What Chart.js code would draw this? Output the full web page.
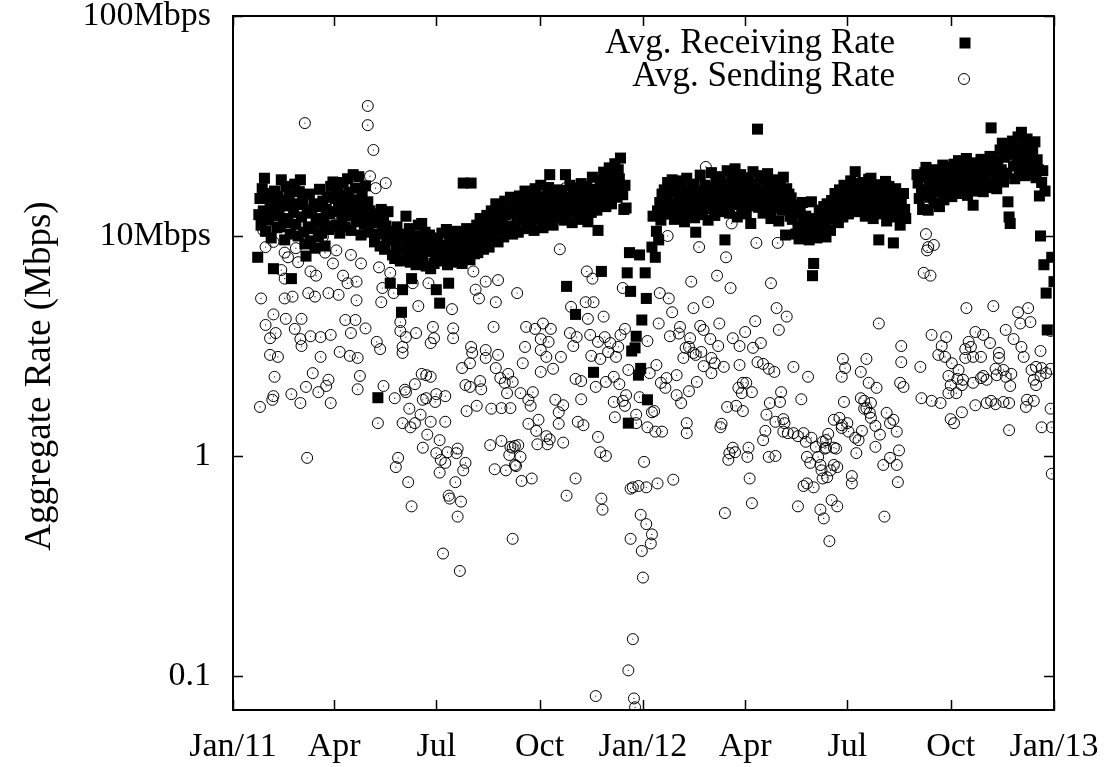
<!DOCTYPE html>
<html>
<head>
<meta charset="utf-8">
<title>Aggregate Rate</title>
<script src="https://cdn.jsdelivr.net/npm/chart.js@4.4.1/dist/chart.umd.min.js"></script>
<style>
  html, body { margin: 0; padding: 0; background: #ffffff; }
  #wrap { width: 1112px; height: 767px; }
</style>
</head>
<body>
<div id="wrap"><canvas id="rate-graph" width="1112" height="767"></canvas></div>
<script>
// days are counted from 1 Jan 2011
const monthTicks = [0, 90, 181, 273, 365, 456, 547, 639, 731];
const monthLabels = ["Jan/11", "Apr", "Jul", "Oct", "Jan/12", "Apr", "Jul", "Oct", "Jan/13"];

const rateTicks = [0.1, 1, 10, 100];
const rateLabels = ["0.1", "1", "10Mbps", "100Mbps"];

const seriesNames = ["Avg. Receiving Rate", "Avg. Sending Rate"];

// receiving rate, one value per day starting at recvFirstDay (null = no sample)
const recvFirstDay = 22;
const recvRates = [
  8.0, 12.5, 14.8, 11.2, 16.4, 13.0, 18.3, 10.5, 12.1, 15.6,
  11.8, 14.2, 9.8, 13.5, 7.1, 16.0, 12.4, 10.9, 15.1, 13.3,
  11.0, 18.0, 14.5, 12.0, 9.6, 16.8, 13.7, 11.5, 15.4, 10.2,
  6.4, 14.0, 12.8, 17.2, 11.3, 13.9, 10.0, 15.9, 18.0, 12.2,
  14.6, 10.4, 9.2, 8.1, 13.1, 11.0, 15.5, 9.5, 12.7, 10.8,
  14.0, 8.8, 11.6, 13.6, 9.9, 16.3, 12.0, 10.3, 14.4, 11.4,
  9.0, 13.2, 15.0, 10.7, 12.6, 16.8, 11.1, 17.6, 12.9, 14.8,
  11.2, 16.0, 13.4, 10.3, 15.2, 12.1, 17.5, 14.1, 11.0, 13.0,
  18.2, 15.8, 12.4, 10.6, 14.6, 19.0, 13.2, 16.5, 11.6, 14.0,
  18.6, 12.8, 10.1, 15.4, 13.6, 11.3, 16.9, 12.2, 14.3, 10.4,
  13.0, 11.7, 12.5, 11.5, 9.4, 12.6, 10.2, 1.84, 11.8, 9.0,
  13.2, 10.7, 12.0, 8.7, 11.1, 9.8, 12.9, 10.4, 6.1, 9.6,
  8.2, 10.5, 7.9, 9.1, 11.0, 8.6, 9.9, 7.7, 4.5, 5.7,
  8.8, 10.2, 12.3, 9.3, 8.0, 10.8, 7.6, 6.4, 9.5, 8.4,
  10.0, 7.4, 9.0, 11.2, 8.1, 9.7, 11.4, 7.8, 8.9, 10.4,
  7.3, 9.2, 8.5, 10.1, 7.1, 8.7, 9.8, 7.5, 8.3, 5.7,
  9.4, 7.9, 4.95, 8.6, 10.3, 7.7, 9.1, 8.2, 10.7, 7.4,
  6.1, 9.6, 8.4, 10.0, 7.9, 9.3, 8.1, 10.5, 7.6, 9.0,
  8.8, 10.2, 7.5, 17.4, 9.4, 8.0, 10.8, 8.5, 9.7, 7.8,
  17.4, 9.2, 10.4, 8.3, 9.0, 11.2, 8.4, 10.1, 12.0, 9.3,
  10.8, 8.7, 11.6, 9.8, 12.4, 10.3, 8.9, 11.0, 13.0, 9.6,
  12.2, 10.6, 14.0, 11.4, 9.4, 12.8, 10.9, 13.6, 11.8, 9.9,
  14.4, 12.5, 10.5, 13.3, 11.1, 15.0, 12.7, 10.2, 13.4, 11.0,
  14.8, 12.3, 10.4, 15.2, 13.0, 11.7, 14.1, 12.6, 16.0, 10.8,
  13.7, 12.0, 15.5, 11.4, 14.4, 13.1, 10.6, 16.4, 12.8, 14.9,
  11.9, 13.5, 17.0, 12.4, 10.9, 15.1, 13.9, 11.6, 14.6, 16.6,
  19.0, 12.7, 14.2, 11.2, 15.8, 13.3, 12.1, 16.2, 14.0, 14.5,
  12.2, 16.1, 13.4, 11.8, 19.0, 5.9, 15.0, 12.9, 17.0, 14.1,
  11.5, 15.7, 13.2, 4.4, 16.5, 12.4, 14.8, 11.9, 17.3, 13.7,
  15.4, 12.6, 14.2, 16.8, 11.6, 13.9, 15.9, 12.8, 18.5, 2.4,
  14.6, 16.3, 13.1, 10.6, 15.6, 17.8, 6.9, 14.2, 19.5, 16.4,
  13.6, 18.6, 15.1, 20.4, 17.0, 14.0, 19.2, 16.0, 21.3, 17.6,
  15.0, 20.0, 18.2, 22.6, 16.8, 15.4, 13.2, 17.0, 13.4, 6.8,
  1.41, 8.4, 5.6, 3.0, null, null, 3.1, 3.5, null, 2.33,
  8.2, 2.5, 4.15, null, null, 6.8, 5.2, 1.8, null, null,
  null, 8.9, 12.3, null, 8.0, 10.5, 13.0, 9.6, 14.2, 11.8,
  15.5, 12.6, 16.2, 13.4, 14.8, 17.5, 12.6, 15.9, 13.4, 18.0,
  14.1, 11.9, 16.6, 13.0, 15.3, 17.8, 12.3, 14.6, 16.9, 13.7,
  11.6, 15.6, 18.3, 14.0, 12.8, 16.2, 13.5, 15.0, 17.2, 12.1,
  10.4, 14.4, 16.0, 13.1, 18.9, 15.2, 12.5, 14.7, 17.0, 13.3,
  15.8, 11.8, 16.7, 14.2, 19.4, 13.8, 15.5, 12.4, 17.6, 14.9,
  16.4, 12.9, 18.6, 15.1, 13.6, 17.1, 9.6, 14.5, 19.8, 16.1,
  12.7, 15.7, 18.1, 13.9, 16.8, 20.2, 14.3, 12.2, 17.4, 15.4,
  19.0, 13.2, 16.3, 14.8, 18.4, 12.6, 15.9, 17.7, 13.7, 11.4,
  16.6, 19.6, 14.6, 17.2, 15.3, 30.6, 13.5, 18.8, 16.0, 14.1,
  12.7, 17.9, 15.6, 13.0, 19.2, 16.5, 14.4, 12.0, 17.3, 15.0,
  18.0, 13.4, 16.2, 14.7, 11.7, 17.0, 15.2, 13.1, 18.5, 14.0,
  10.1, 16.4, 13.6, 15.5, 12.3, 14.9, 11.9, 13.8, 12.6, 10.2,
  13.8, 11.0, 9.7, 12.9, 10.8, 14.2, 11.5, 9.9, 12.3, 10.5,
  11.8, 9.6, 10.9, 14.3, 6.6, 7.5, 10.3, 12.0, 9.8, 11.3,
  13.1, 10.0, 12.5, 10.7, 13.6, 11.1, 9.9, 14.0, 12.2, 12.8,
  10.6, 14.5, 11.9, 13.2, 15.6, 12.4, 14.0, 11.5, 16.2, 13.7,
  15.0, 12.2, 17.0, 14.4, 13.0, 16.6, 12.6, 15.3, 17.8, 14.1,
  16.4, 13.4, 19.6, 15.7, 12.9, 17.3, 14.8, 16.0, 13.6, 17.5,
  14.2, 12.3, 16.6, 15.0, 18.1, 13.3, 18.3, 14.7, 12.0, 16.3,
  15.2, 13.0, 17.1, 9.6, 14.5, 16.0, 12.6, 15.5, 13.8, 17.7,
  11.7, 14.9, 16.8, 13.1, 15.8, 12.2, 9.3, 14.3, 16.4, 12.8,
  15.1, 13.5, 11.2, 14.6, 12.5, 15.6, 13.2, 12.0, null, null,
  null, null, null, null, null, null, null, 19.0, 17.4, 14.8,
  18.6, 16.0, 13.2, 16.2, 19.4, 20.5, 15.3, 13.1, 17.8, 15.0,
  19.0, 16.6, 14.1, 18.2, 20.0, 15.8, 17.0, 13.6, 18.9, 16.3,
  21.0, 14.6, 17.5, 19.7, 15.5, 18.0, 16.8, 20.6, 15.1, 18.4,
  21.2, 16.5, 19.3, 17.0, 22.0, 15.6, 18.9, 20.4, 16.8, 19.8,
  17.5, 22.5, 15.3, 18.0, 20.9, 16.2, 19.0, 13.8, 17.7, 21.5,
  18.6, 16.0, 20.1, 17.3, 22.3, 19.4, 15.9, 18.3, 21.0, 17.1,
  19.7, 16.6, 23.0, 31.0, 20.6, 17.4, 22.0, 19.2, 16.4, 21.8,
  18.5, 24.6, 20.0, 26.4, 17.6, 22.8, 25.5, 19.3, 14.3, 12.2,
  11.4, 23.5, 27.0, 20.8, 18.2, 25.0, 22.0, 28.2, 19.8, 24.2,
  29.6, 21.4, 26.0, 18.8, 23.2, 27.6, 20.6, 25.8, 22.6, 19.0,
  24.8, 21.0, 26.8, 18.4, 22.2, 20.0, 15.2, 10.0, 17.5, 19.8,
  7.4, 16.0, 5.5, 3.74, null, null, null, 8.0, null, 6.2
];

// sending rate samples: day and rate (Mbps)
const sendDays = [
  24, 25, 27, 29, 29, 33, 33, 35, 36, 36, 36, 37,
  38, 40, 43, 46, 46, 46, 47, 49, 52, 53, 55, 56,
  58, 60, 60, 61, 61, 64, 65, 66, 67, 69, 69, 71,
  73, 74, 76, 78, 78, 80, 82, 83, 85, 85, 87, 87,
  89, 92, 94, 94, 95, 98, 100, 102, 104, 105, 105, 109,
  110, 110, 111, 111, 113, 114, 118, 120, 120, 122, 125, 127,
  128, 129, 130, 131, 132, 133, 134, 136, 140, 143, 144, 145,
  147, 149, 149, 151, 151, 151, 153, 154, 154, 156, 157, 158,
  159, 160, 162, 162, 163, 165, 167, 168, 169, 169, 172, 172,
  173, 174, 176, 176, 176, 178, 179, 180, 181, 181, 184, 184,
  185, 187, 189, 189, 189, 191, 192, 193, 195, 196, 196, 198,
  199, 200, 200, 202, 203, 204, 205, 207, 207, 208, 211, 211,
  212, 213, 214, 216, 217, 219, 220, 221, 225, 225, 225, 228,
  229, 230, 232, 233, 234, 234, 236, 236, 238, 239, 239, 242,
  243, 244, 245, 246, 247, 247, 249, 249, 249, 251, 251, 252,
  253, 254, 256, 256, 257, 258, 260, 261, 263, 263, 265, 266,
  267, 269, 270, 271, 272, 274, 274, 274, 276, 279, 279, 280,
  281, 282, 283, 285, 287, 290, 290, 291, 292, 294, 294, 296,
  297, 300, 301, 303, 305, 305, 306, 307, 310, 310, 312, 314,
  315, 316, 318, 319, 320, 321, 323, 323, 325, 325, 327, 327,
  328, 329, 330, 331, 332, 332, 334, 336, 339, 339, 340, 341,
  343, 344, 345, 347, 347, 349, 349, 350, 352, 352, 354, 354,
  356, 356, 357, 358, 359, 359, 361, 362, 363, 364, 365, 366,
  368, 368, 369, 369, 371, 372, 373, 373, 375, 376, 377, 378,
  379, 380, 381, 382, 385, 386, 387, 388, 389, 391, 392, 395,
  395, 397, 398, 399, 401, 403, 404, 404, 406, 406, 407, 408,
  410, 410, 412, 413, 415, 416, 417, 419, 419, 421, 423, 425,
  426, 426, 429, 431, 432, 433, 434, 435, 437, 438, 439, 440,
  441, 442, 443, 444, 445, 445, 447, 448, 450, 451, 451, 453,
  454, 454, 456, 457, 458, 459, 460, 462, 462, 463, 465, 466,
  467, 470, 472, 472, 474, 475, 477, 477, 478, 479, 482, 483,
  483, 484, 485, 486, 487, 488, 490, 490, 491, 493, 494, 499,
  499, 503, 503, 506, 508, 508, 510, 511, 511, 512, 514, 515,
  517, 519, 521, 523, 523, 524, 525, 525, 526, 527, 528, 528,
  529, 530, 531, 532, 533, 535, 535, 535, 537, 538, 538, 540,
  542, 542, 542, 543, 544, 545, 547, 548, 551, 551, 554, 555,
  557, 559, 559, 560, 562, 562, 564, 564, 566, 567, 568, 568,
  572, 572, 573, 575, 576, 579, 580, 582, 585, 585, 588, 591,
  591, 592, 593, 594, 595, 595, 597, 612, 613, 615, 617, 618,
  619, 621, 622, 622, 624, 628, 630, 631, 634, 635, 637, 637,
  639, 639, 640, 642, 644, 645, 646, 649, 649, 650, 652, 652,
  653, 655, 657, 659, 659, 661, 661, 666, 666, 668, 668, 671,
  671, 674, 675, 677, 679, 679, 680, 682, 682, 686, 686, 688,
  688, 691, 691, 692, 693, 695, 699, 701, 702, 704, 706, 707,
  708, 710, 711, 713, 713, 715, 715, 719, 719, 720, 720, 724,
  728, 728, 728, 729, 729
];
const sendRates = [
  1.67, 5.2, 10.6, 8.9, 3.94, 3.43, 2.88, 1.80, 9.4, 4.4, 1.87, 2.29,
  3.62, 2.82, 7.0, 8.4, 6.4, 5.2, 4.2, 8.0, 1.91, 5.3, 3.78, 8.8,
  7.6, 3.4, 1.74, 4.2, 3.16, 32.6, 2.06, 0.98, 5.5, 6.9, 3.5, 2.38,
  5.3, 6.6, 1.95, 2.82, 3.47, 9.9, 8.4, 2.08, 5.5, 2.22, 3.55, 1.74,
  7.5, 8.6, 11.4, 5.4, 2.97, 6.6, 4.15, 6.1, 2.85, 8.2, 3.62, 4.15,
  6.2, 5.1, 2.79, 2.01, 2.31, 7.5, 3.8, 39, 31.9, 18.7, 24.6, 16.5,
  3.3, 1.41, 7.2, 3.06, 5.0, 5.8, 2.08, 17.4, 6.8, 5.5, 1.83, 0.89,
  0.98, 4.06, 3.7, 1.41, 3.13, 2.94, 2.0, 3.47, 1.95, 0.76, 1.64, 1.35,
  0.59, 6.1, 2.12, 1.41, 3.62, 4.8, 1.54, 2.36, 1.80, 1.09, 2.33, 1.83,
  1.25, 6.1, 3.26, 2.29, 1.43, 3.86, 3.43, 1.76, 1.91, 1.03, 1.18, 0.84,
  0.96, 0.36, 1.87, 1.43, 0.93, 1.04, 0.66, 0.64, 4.65, 3.8, 3.43, 0.76,
  1.03, 1.08, 0.53, 0.30, 0.62, 2.51, 0.86, 2.10, 0.93, 1.60, 2.64, 2.06,
  3.13, 2.94, 6.9, 5.7, 1.69, 5.2, 2.19, 2.01, 3.03, 2.79, 6.2, 10.9,
  1.12, 1.64, 3.86, 0.87, 5.0, 2.51, 6.3, 2.88, 2.26, 1.65, 1.17, 2.15,
  0.86, 1.93, 2.36, 1.01, 1.65, 1.10, 0.42, 1.09, 2.17, 1.11, 0.91, 0.90,
  5.5, 1.12, 1.93, 0.99, 0.77, 2.64, 3.13, 3.86, 1.80, 1.40, 1.69, 0.79,
  1.95, 3.78, 1.30, 1.13, 1.46, 3.03, 2.41, 3.4, 4.0, 2.82, 1.23, 1.13,
  3.3, 1.19, 3.78, 2.49, 1.80, 1.40, 1.58, 8.7, 2.82, 1.70, 1.15, 16.5,
  0.66, 3.62, 4.76, 3.16, 2.24, 0.79, 3.47, 1.43, 2.19, 1.81, 1.38, 5.0,
  6.9, 4.2, 3.55, 2.85, 6.4, 5.0, 2.06, 0.081, 3.3, 1.22, 2.76, 1.04,
  0.64, 0.57, 4.3, 3.47, 2.17, 1.0, 2.97, 3.26, 2.29, 1.76, 1.50, 2.82,
  3.13, 2.12, 3.55, 5.8, 1.78, 3.78, 1.69, 1.89, 2.46, 0.106, 0.71, 0.42,
  0.147, 0.72, 0.079, 0.072, 1.54, 1.41, 0.73, 1.85, 0.54, 0.37, 0.28, 0.94,
  0.72, 0.49, 3.33, 1.35, 2.38, 0.40, 1.58, 0.44, 1.60, 1.29, 2.59, 0.75,
  4.0, 5.5, 2.15, 1.29, 2.04, 2.26, 10.0, 5.2, 3.5, 4.5, 0.78, 2.33,
  1.89, 3.6, 3.86, 1.74, 2.79, 3.1, 1.41, 1.27, 3.13, 1.97, 3.43, 6.2,
  4.7, 2.94, 2.88, 2.17, 8.9, 3.9, 2.97, 3.74, 2.56, 20.6, 5.0, 3.4,
  2.79, 2.38, 2.64, 6.6, 3.16, 4.0, 1.35, 1.40, 2.54, 0.55, 8.0, 1.67,
  0.96, 1.03, 5.8, 11.4, 3.43, 1.09, 1.04, 1.69, 2.04, 3.16, 2.59, 1.93,
  2.15, 1.60, 3.66, 2.15, 0.99, 1.09, 0.79, 1.95, 0.61, 3.1, 4.1, 9.3,
  2.67, 3.26, 2.62, 1.18, 1.30, 1.54, 2.49, 0.99, 1.74, 6.1, 2.41, 1.43,
  1.0, 4.7, 9.3, 3.74, 1.76, 1.95, 1.47, 1.29, 1.41, 4.3, 1.27, 2.54,
  1.27, 1.23, 0.59, 1.81, 1.27, 0.73, 1.16, 0.99, 0.75, 2.29, 0.93, 1.21,
  0.72, 1.10, 0.99, 0.91, 0.57, 0.86, 1.16, 0.79, 0.52, 1.08, 1.18, 1.09,
  0.80, 1.26, 0.41, 0.86, 0.63, 1.46, 1.09, 0.91, 1.08, 0.89, 0.59, 1.49,
  2.29, 1.38, 1.34, 2.76, 1.76, 2.51, 1.41, 1.29, 0.81, 0.75, 1.21, 1.03,
  1.18, 2.41, 1.83, 1.30, 1.78, 1.64, 2.76, 1.65, 2.15, 1.57, 1.49, 1.74,
  1.37, 1.10, 2.04, 4.0, 1.25, 0.91, 0.53, 1.57, 1.41, 0.98, 1.46, 1.29,
  0.91, 0.76, 1.06, 2.15, 3.16, 2.67, 2.06, 2.54, 1.83, 6.8, 10.2, 8.6,
  8.9, 6.6, 3.55, 1.78, 9.1, 2.88, 1.74, 3.16, 2.82, 3.47, 2.31, 1.93,
  2.10, 1.47, 2.64, 1.41, 1.93, 2.24, 2.46, 2.10, 1.58, 2.22, 3.06, 2.79,
  4.7, 3.3, 3.13, 2.82, 2.15, 3.66, 1.70, 2.82, 2.26, 3.55, 2.31, 2.22,
  1.74, 3.26, 1.78, 4.8, 2.49, 1.72, 2.33, 2.94, 2.79, 2.46, 1.76, 3.74,
  2.29, 1.74, 1.31, 2.08, 2.36, 3.4, 4.5, 4.0, 3.13, 2.82, 1.67, 1.80,
  4.7, 4.06, 2.46, 2.22, 1.78, 2.54, 2.10, 3.0, 2.31, 2.51, 1.35, 2.38,
  3.7, 2.49, 1.64, 1.35, 0.83
];

const FONT = "Liberation Serif";
const area = { left: 233, top: 16, right: 1054, bottom: 710 };

function recvPoints() {
  let points = [];
  for (let i = 0; i < recvRates.length; i++) {
    if (recvRates[i] !== null) {
      points.push({ x: recvFirstDay + i, y: recvRates[i] });
    }
  }
  return points;
}

function sendPoints() {
  let points = [];
  let n = Math.min(sendDays.length, sendRates.length);
  for (let i = 0; i < n; i++) {
    points.push({ x: sendDays[i], y: sendRates[i] });
  }
  return points;
}

// frame, inward tick marks on all four sides, y title and key
const framePlugin = {
  id: "frame",
  afterDraw(chart) {
    const ctx = chart.ctx;
    const a = chart.chartArea;
    const xs = chart.scales.x;
    const ys = chart.scales.y;
    ctx.save();
    ctx.strokeStyle = "#000";
    ctx.lineWidth = 1.5;
    ctx.beginPath();
    monthTicks.forEach(v => {
      const px = Math.round(xs.getPixelForValue(v)) + 0.5;
      ctx.moveTo(px, a.bottom); ctx.lineTo(px, a.bottom - 10);
      ctx.moveTo(px, a.top); ctx.lineTo(px, a.top + 10);
    });
    rateTicks.forEach(v => {
      const py = Math.round(ys.getPixelForValue(v)) + 0.5;
      ctx.moveTo(a.left, py); ctx.lineTo(a.left + 10, py);
      ctx.moveTo(a.right, py); ctx.lineTo(a.right - 10, py);
    });
    ctx.stroke();
    ctx.lineWidth = 2;
    ctx.strokeRect(a.left, a.top, a.right - a.left, a.bottom - a.top);

    // y axis title
    ctx.fillStyle = "#000";
    ctx.font = "37px '" + FONT + "'";
    ctx.textAlign = "center";
    ctx.textBaseline = "middle";
    ctx.translate(40, 376);
    ctx.rotate(-Math.PI / 2);
    ctx.fillText("Aggregate Rate (Mbps)", 0, 0);
    ctx.restore();

    // key
    ctx.save();
    ctx.fillStyle = "#000";
    ctx.strokeStyle = "#000";
    ctx.font = "35px '" + FONT + "'";
    ctx.textAlign = "right";
    ctx.textBaseline = "middle";
    ctx.fillText(seriesNames[0], 895, 44);
    ctx.fillText(seriesNames[1], 895, 77);
    ctx.fillRect(959.5, 37.5, 11, 11);
    ctx.lineWidth = 1;
    ctx.beginPath();
    ctx.arc(964, 79, 5.5, 0, Math.PI * 2);
    ctx.stroke();
    ctx.fillRect(963.5, 78.5, 1, 1);
    ctx.restore();
  }
};

function createRateGraph() {
  let graph = document.getElementById("rate-graph").getContext("2d");
  Chart.defaults.color = "#000";
  Chart.defaults.font.family = FONT;
  Chart.defaults.font.size = 34;

  const sent = sendPoints();

  new Chart(graph, {
    type: "scatter",
    data: {
      datasets: [
        {
          label: seriesNames[0],
          data: recvPoints(),
          pointStyle: "rect",
          pointRadius: 7.8,
          backgroundColor: "#000",
          borderWidth: 0,
          order: 2
        },
        {
          label: seriesNames[1],
          data: sent,
          pointStyle: "circle",
          pointRadius: 5.5,
          backgroundColor: "rgba(0,0,0,0)",
          borderColor: "#000",
          borderWidth: 1,
          order: 1
        },
        {
          label: "",
          data: sent,
          pointStyle: "circle",
          pointRadius: 0.6,
          backgroundColor: "#000",
          borderWidth: 0,
          order: 0
        }
      ]
    },
    options: {
      responsive: false,
      animation: false,
      devicePixelRatio: 1,
      events: [],
      layout: {
        padding: { left: 0, top: area.top, right: 1112 - area.right, bottom: 0 }
      },
      plugins: {
        legend: { display: false },
        tooltip: { enabled: false },
        title: { display: false }
      },
      scales: {
        x: {
          type: "linear",
          min: 0,
          max: 731,
          grid: { display: false },
          border: { display: false },
          afterBuildTicks: s => { s.ticks = monthTicks.map(v => ({ value: v })); },
          afterFit: s => { s.height = 767 - area.bottom; },
          ticks: {
            autoSkip: false,
            maxRotation: 0,
            padding: 9,
            font: { size: 34 },
            callback: (v, i) => monthLabels[i]
          }
        },
        y: {
          type: "logarithmic",
          min: 0.07,
          max: 100,
          grid: { display: false },
          border: { display: false },
          afterBuildTicks: s => { s.ticks = rateTicks.map(v => ({ value: v })); },
          afterFit: s => {
            s.width = area.left;
            // keep the top label from pushing the plot area down
            s.paddingTop = 0;
            s.paddingBottom = 0;
          },
          ticks: {
            autoSkip: false,
            padding: 14,
            font: { size: 34 },
            callback: (v, i) => rateLabels[i]
          }
        }
      }
    },
    plugins: [framePlugin]
  });
}

createRateGraph();
</script>
</body>
</html>
